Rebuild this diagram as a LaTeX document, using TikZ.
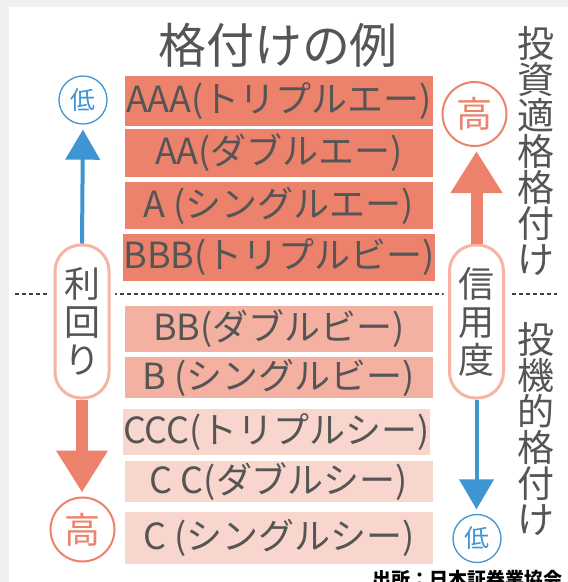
\documentclass[tikz,border=0pt]{standalone}
\usepackage{fontspec}
\setmainfont{Noto Sans CJK JP}
\usetikzlibrary{arrows.meta}
\definecolor{bggray}{HTML}{F0F0F0}
\definecolor{salmon}{HTML}{EC826B}
\definecolor{midpink}{HTML}{F4B1A2}
\definecolor{lightpink}{HTML}{F9D6CD}
\definecolor{capborder}{HTML}{F6B4A4}
\definecolor{bluec}{HTML}{3F95D2}
\definecolor{txtgray}{HTML}{555555}
\tikzset{
  box/.style={inner sep=0pt, minimum width=308pt, text=txtgray,
    font=\fontsize{36}{36}\selectfont},
  capsule/.style={draw=capborder, line width=3pt, fill=white, rounded corners=26pt,
    minimum width=54pt, minimum height=153pt, inner sep=0pt, align=center,
    text=txtgray, font=\fontsize{36}{38}\selectfont,
    preaction={draw=white, line width=12pt}},
  smallcirc/.style={circle, draw=bluec, line width=1.3pt, minimum size=48pt, inner sep=0pt,
    text=bluec, font=\fontsize{25}{25}\selectfont},
  bigcirc/.style={circle, draw=salmon, line width=2pt, minimum size=64pt, inner sep=0pt,
    text=salmon, font=\fontsize{36}{36}\selectfont},
  vtext/.style={align=center, text=txtgray, inner sep=0pt,
    font=\fontsize{37}{36}\selectfont},
  bluearrow/.style={draw=bluec, line width=4pt, -{Triangle[width=34pt,length=30pt]}},
  salmonarrow/.style={draw=salmon, line width=12pt, -{Triangle[width=49pt,length=42pt]}},
  divider/.style={draw=black!75, line width=1.5pt, dash pattern=on 4pt off 3pt}
}
\begin{document}
\begin{tikzpicture}[x=1pt,y=-1pt]
\useasboundingbox (0,0) rectangle (568,582);
\fill[bggray] (0,0) rectangle (568,582);
\fill[white] (9,7) rectangle (568,582);

% title
\node[text=txtgray, font=\fontsize{48}{48}\selectfont, inner sep=0pt] (title) at (278,45) {格付けの例};

% rating boxes
\node[box, fill=salmon, minimum height=50pt] (aaa) at (279,101) {AAA(トリプルエー)};
\node[box, fill=salmon, minimum height=48pt] (aa) at (279,153) {AA(ダブルエー)};
\node[box, fill=salmon, minimum height=47pt] (a) at (279,205.5) {A (シングルエー)};
\node[box, fill=salmon, minimum height=47pt] (bbb) at (279,257.5) {BBB(トリプルビー)};
\node[box, fill=midpink, minimum height=46pt] (bb) at (279,329) {BB(ダブルビー)};
\node[box, fill=midpink, minimum height=41pt] (b) at (279,377.5) {B (シングルビー)};
\node[box, fill=lightpink, minimum height=46pt, minimum width=303pt] (ccc) at (276.5,432) {CCC(トリプルシー)};
\node[box, fill=lightpink, minimum height=41pt] (cc) at (279,481.5) {C C(ダブルシー)};
\node[box, fill=lightpink, minimum height=52pt] (c) at (279,538) {C (シングルシー)};

% divider
\draw[divider] (15,294) -- (557,294);

% capsules
\node[capsule] (yield) at (82,321.5) {利\\回\\り};
\node[capsule] (credit) at (476.5,321.5) {信\\用\\度};

% circles
\node[smallcirc] (lowL) at (83,100) {低};
\node[bigcirc] (highL) at (82.5,529.5) {高};
\node[bigcirc] (highR) at (474.5,114) {高};
\node[smallcirc] (lowR) at (477,538.5) {低};

% arrows
\draw[bluearrow, shorten >=5pt] (yield.north) -- (lowL.south);
\draw[salmonarrow, shorten >=4pt] (yield.south) -- (yield.south |- highL.north);
\draw[salmonarrow, shorten >=4pt] (credit.north) -- (credit.north |- highR.south);
\draw[bluearrow, shorten >=4.5pt] (credit.south) -- (credit.south |- lowR.north);

% vertical side labels
\node[vtext] (invest) at (536,151) {投\\資\\適\\格\\格\\付\\け};
\node[vtext] (spec) at (536,429) {投\\機\\的\\格\\付\\け};

% source
\node[anchor=base east, inner sep=0pt, font=\fontsize{19}{19}\selectfont\bfseries] (src) at (563,586) {出所：日本証券業協会};
\end{tikzpicture}
\end{document}
